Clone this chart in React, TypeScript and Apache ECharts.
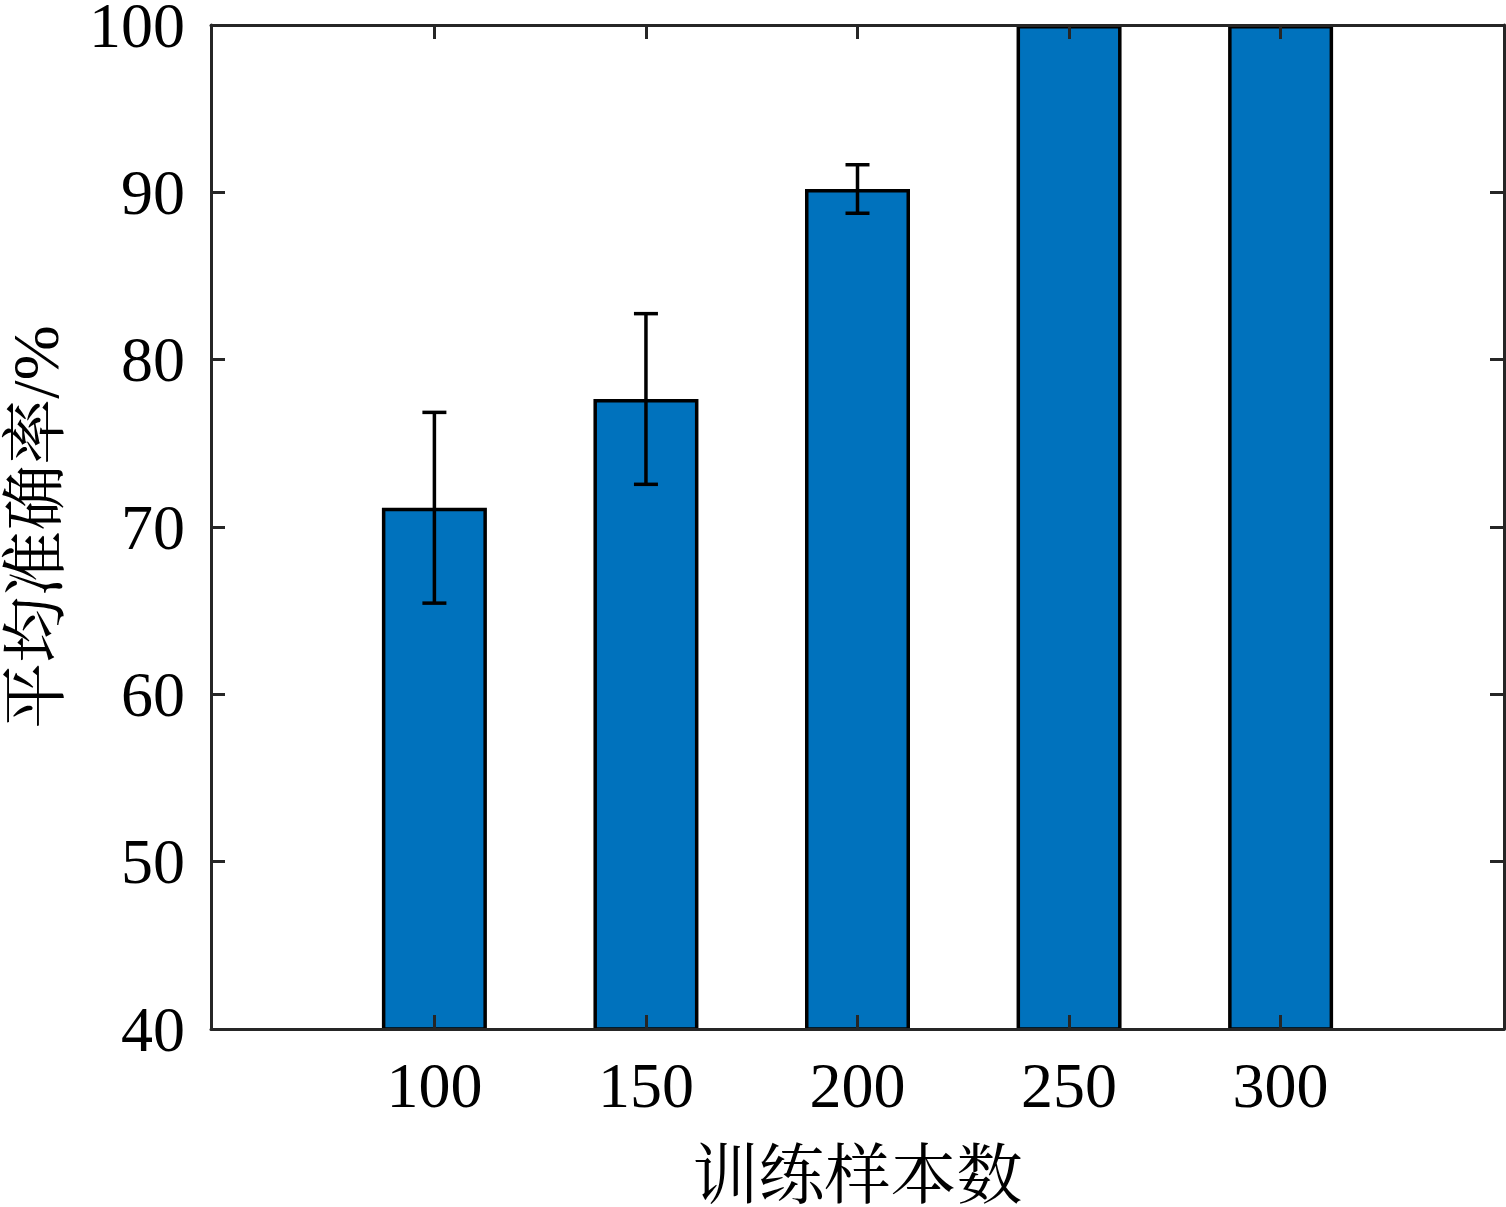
import React, { useEffect, useRef } from "react";
import * as echarts from "echarts";

const sampleCounts = [100, 150, 200, 250, 300];
const meanAccuracy = [71.15, 77.65, 90.2, 100, 100];
const stdAccuracy = [5.7, 5.1, 1.45, 0, 0];
const yTicks = [40, 50, 60, 70, 80, 90, 100];

const SERIF = "'Liberation Serif', 'Times New Roman', 'Noto Serif CJK SC', 'Noto Sans CJK SC', serif";
const AXIS_COLOR = "#262626";

export default function App() {
  const ref = useRef<HTMLDivElement>(null);
  useEffect(() => {
    document.body.style.margin = "0";
    if (!ref.current) return;
    const chart = echarts.init(ref.current, undefined, { renderer: "svg" });
    const axisLine = { show: true, lineStyle: { color: AXIS_COLOR, width: 3 } };
    const tick = { show: true, inside: true, length: 14, lineStyle: { color: AXIS_COLOR, width: 3 } };
    const barData = sampleCounts.map((x, i) => [x, meanAccuracy[i]]);
    const errData = sampleCounts.map((x, i) => [x, meanAccuracy[i] - stdAccuracy[i], meanAccuracy[i] + stdAccuracy[i]]);
    chart.setOption({
      animation: false,
      backgroundColor: "#ffffff",
      grid: { left: 211, right: 2, top: 25, bottom: 178, containLabel: false, outerBoundsMode: "none" },
      xAxis: [
        {
          type: "value",
          min: 47.2,
          max: 352.8,
          position: "bottom",
          z: 10,
          axisLine,
          axisTick: { ...tick, customValues: sampleCounts },
          axisLabel: {
            customValues: sampleCounts,
            color: "#000",
            fontFamily: SERIF,
            fontSize: 64,
            margin: 24,
          },
          splitLine: { show: false },
          name: "训练样本数",
          nameLocation: "middle",
          nameGap: 116,
          nameTextStyle: { color: "#000", fontFamily: SERIF, fontSize: 66, lineHeight: 60 },
        },
        {
          type: "value",
          min: 47.2,
          max: 352.8,
          position: "top",
          z: 10,
          axisLine,
          axisTick: { ...tick, customValues: sampleCounts },
          axisLabel: { show: false },
          splitLine: { show: false },
        },
      ],
      yAxis: [
        {
          type: "value",
          min: 40,
          max: 100,
          interval: 10,
          position: "left",
          z: 10,
          axisLine,
          axisTick: tick,
          axisLabel: {
            color: "#000",
            fontFamily: SERIF,
            fontSize: 64,
            margin: 26,
            formatter: (v: number) => (yTicks.includes(v) ? String(v) : ""),
          },
          splitLine: { show: false },
          name: "平均准确率/%",
          nameLocation: "middle",
          nameGap: 146,
          nameTextStyle: { color: "#000", fontFamily: SERIF, fontSize: 66, lineHeight: 60 },
        },
        {
          type: "value",
          min: 40,
          max: 100,
          interval: 10,
          position: "right",
          z: 10,
          axisLine,
          axisTick: tick,
          axisLabel: { show: false },
          splitLine: { show: false },
        },
      ],
      series: [
        {
          type: "bar",
          xAxisIndex: 0,
          yAxisIndex: 0,
          data: barData,
          barWidth: 105,
          itemStyle: { color: "#0072BD", borderColor: "#000", borderWidth: 3.5 },
          z: 2,
        },
        {
          type: "custom",
          xAxisIndex: 0,
          yAxisIndex: 0,
          data: errData,
          z: 5,
          renderItem: (_params: any, api: any) => {
            const x = api.value(0);
            const lo = api.value(1);
            const hi = api.value(2);
            if (hi - lo <= 0) return null;
            const pLo = api.coord([x, lo]);
            const pHi = api.coord([x, hi]);
            const hw = 12;
            const style = { stroke: "#000", lineWidth: 3.5 };
            return {
              type: "group",
              children: [
                { type: "line", shape: { x1: pLo[0], y1: pLo[1], x2: pHi[0], y2: pHi[1] }, style },
                { type: "line", shape: { x1: pLo[0] - hw, y1: pLo[1], x2: pLo[0] + hw, y2: pLo[1] }, style },
                { type: "line", shape: { x1: pHi[0] - hw, y1: pHi[1], x2: pHi[0] + hw, y2: pHi[1] }, style },
              ],
            };
          },
        },
      ],
    });
    return () => chart.dispose();
  }, []);
  return <div ref={ref} style={{ width: 1506, height: 1207 }} />;
}
